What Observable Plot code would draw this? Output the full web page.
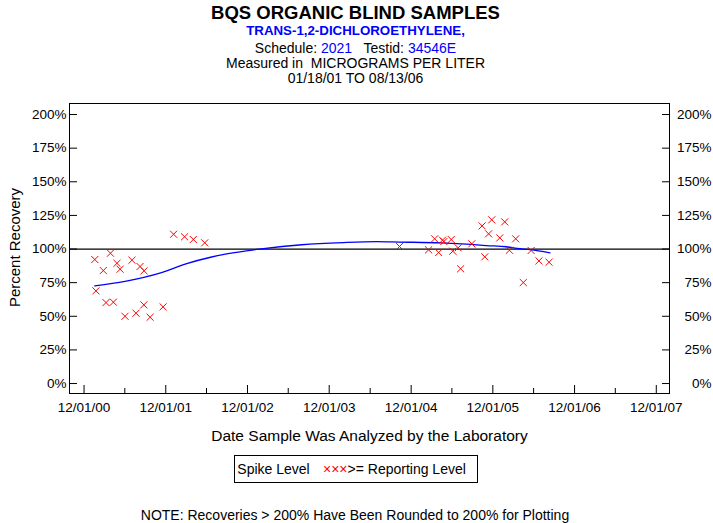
<!DOCTYPE html>
<html><head><meta charset="utf-8">
<script src="https://cdn.jsdelivr.net/npm/d3@7"></script>
<script src="https://cdn.jsdelivr.net/npm/@observablehq/plot@0.6"></script>
<style>body{margin:0;background:#fff} svg{display:block}</style>
</head><body><div id="chart"></div>
<script>
// ---- data ----
const sampleDates = [
  "2001-01-18","2001-01-23","2001-02-25","2001-03-09","2001-03-29","2001-04-11",
  "2001-04-27","2001-05-11","2001-06-02","2001-07-03","2001-07-21","2001-08-08",
  "2001-08-25","2001-08-26","2001-09-22","2001-11-19","2002-01-05","2002-02-23",
  "2002-04-03","2002-05-24","2004-10-10","2005-02-17","2005-03-16","2005-04-03",
  "2005-04-20","2005-04-26","2005-05-29","2005-06-05","2005-06-29","2005-07-10",
  "2005-08-29","2005-10-14","2005-10-26","2005-11-12","2005-11-26","2006-01-01",
  "2006-01-23","2006-02-13","2006-03-13","2006-04-16","2006-05-21","2006-06-25",
  "2006-08-09"
];
const recoveries = [
  92.2, 68.9, 84.0, 60.2, 96.9, 60.5,
  89.4, 85.0, 50.0, 91.7, 52.3, 87.0,
  58.5, 83.8, 49.3, 57.0, 111.0, 109.1,
  107.1, 104.6, 101.9, 99.4, 107.6, 97.4,
  106.6, 105.6, 107.1, 98.4, 100.9, 85.3,
  103.9, 117.2, 94.2, 111.3, 121.7, 108.3,
  120.2, 99.1, 107.6, 75.1, 98.9, 91.2,
  90.2
];
const curveDates = [
  "2001-01-18","2001-06-02","2001-11-08","2002-03-01","2002-06-19","2002-08-24",
  "2003-02-01","2003-08-01","2004-02-01","2004-07-01","2004-10-10","2005-04-15",
  "2005-08-28","2005-11-01","2006-01-30","2006-03-20","2006-05-17","2006-08-13"
];
const curveValues = [
  72.6, 76.0, 82.3, 89.0, 93.9, 96.2,
  100.1, 103.2, 104.8, 105.5, 105.2, 104.6,
  103.4, 102.6, 101.7, 100.5, 99.5, 97.2
];
const yTicks = [0, 25, 50, 75, 100, 125, 150, 175, 200];
const majorTickDates = ["2000-12-01","2001-12-01","2002-12-01","2003-12-01","2004-12-01","2005-12-01","2006-12-01","2007-12-01"];
const minorTickDates = ["2001-06-01","2002-06-01","2003-06-01","2004-06-01","2005-06-01","2006-06-01","2007-06-01"];
const xDomain = ["2000-09-27", "2008-01-29"];
const yDomain = [-7.4, 208.2];
const referenceLine = [100];

// ---- build ----
const samples = sampleDates.map((d, i) => ({date: new Date(d), value: recoveries[i]}));
const curve = curveDates.map((d, i) => ({date: new Date(d), value: curveValues[i]}));
const majorTicks = majorTickDates.map(d => new Date(d));
const minorTicks = minorTickDates.map(d => new Date(d));
const pct = d => d + "%";
const FONT = "'Liberation Sans', Arial, Helvetica, sans-serif";

const svg = Plot.plot({
  width: 713, height: 523,
  marginLeft: 69, marginRight: 44, marginTop: 103, marginBottom: 130,
  style: {fontFamily: FONT, fontSize: "13.5px", color: "black", background: "white", overflow: "visible"},
  x: {type: "utc", domain: xDomain.map(d => new Date(d))},
  y: {domain: yDomain},
  marks: [
    Plot.ruleY(referenceLine, {stroke: "black", strokeWidth: 1.2}),
    Plot.line(curve, {x: "date", y: "value", stroke: "#0000ff", strokeWidth: 1.3, curve: "monotone-x"}),
    Plot.dot(samples, {x: "date", y: "value", symbol: "times", r: 3.3, stroke: "#ff0000", strokeWidth: 1}),
    Plot.tickY(yTicks, {y: d => d, insetRight: 592, stroke: "black"}),
    Plot.tickY(yTicks, {y: d => d, insetLeft: 593, stroke: "black"}),
    Plot.tickX(majorTicks, {x: d => d, insetTop: 282, stroke: "black"}),
    Plot.tickX(minorTicks, {x: d => d, insetTop: 285, stroke: "black"}),
    Plot.axisY(yTicks, {anchor: "left", tickSize: 0, tickPadding: 3, tickFormat: pct, label: null, fontSize: 13.5}),
    Plot.axisY(yTicks, {anchor: "right", tickSize: 0, tickPadding: 42, textAnchor: "end", tickFormat: pct, label: null, fontSize: 13.5}),
    Plot.axisX(majorTicks, {anchor: "bottom", tickSize: 0, tickPadding: 9, tickFormat: d3.utcFormat("%m/%d/%y"), label: null, fontSize: 13.5}),
    Plot.frame({stroke: "black"})
  ]
});

const s = d3.select(svg);
const addText = (x, y, txt, opts = {}) => {
  const t = s.append("text").attr("x", x).attr("y", y)
    .attr("text-anchor", opts.anchor || "middle")
    .attr("font-family", FONT)
    .attr("font-size", opts.size || 14)
    .attr("font-weight", opts.weight || "normal")
    .attr("fill", opts.fill || "black");
  if (opts.rotate) t.attr("transform", `rotate(-90 ${x} ${y})`);
  t.text(txt);
  return t;
};

addText(355.5, 18.5, "BQS ORGANIC BLIND SAMPLES", {size: 18.5, weight: "bold"});
addText(355.5, 35, "TRANS-1,2-DICHLOROETHYLENE,", {size: 13.3, weight: "bold", fill: "#0000ff"});
const sch = addText(355.5, 53, "", {size: 14});
sch.append("tspan").text("Schedule: ");
sch.append("tspan").attr("fill", "#0000ff").text("2021");
sch.append("tspan").text("\u00a0\u00a0 Testid: ");
sch.append("tspan").attr("fill", "#0000ff").text("34546E");
addText(355.5, 68.3, "Measured in \u00a0MICROGRAMS PER LITER", {size: 14});
addText(355.5, 83.3, "01/18/01 TO 08/13/06", {size: 14});

addText(19.5, 247.5, "Percent Recovery", {size: 15, rotate: true});
addText(369.5, 440.7, "Date Sample Was Analyzed by the Laboratory", {size: 15.5});

s.append("rect").attr("x", 234.5).attr("y", 455.5).attr("width", 243).attr("height", 27)
  .attr("fill", "none").attr("stroke", "black");
addText(237.3, 474, "Spike Level", {size: 14, anchor: "start"});
const leg = addText(323, 474, "", {size: 14, anchor: "start"});
leg.append("tspan").attr("fill", "#ff0000").text("\u00d7\u00d7\u00d7");
leg.append("tspan").text(">= Reporting Level");

addText(355, 520, "NOTE: Recoveries > 200% Have Been Rounded to 200% for Plotting", {size: 14});

document.getElementById("chart").appendChild(svg);
</script>
</body></html>
